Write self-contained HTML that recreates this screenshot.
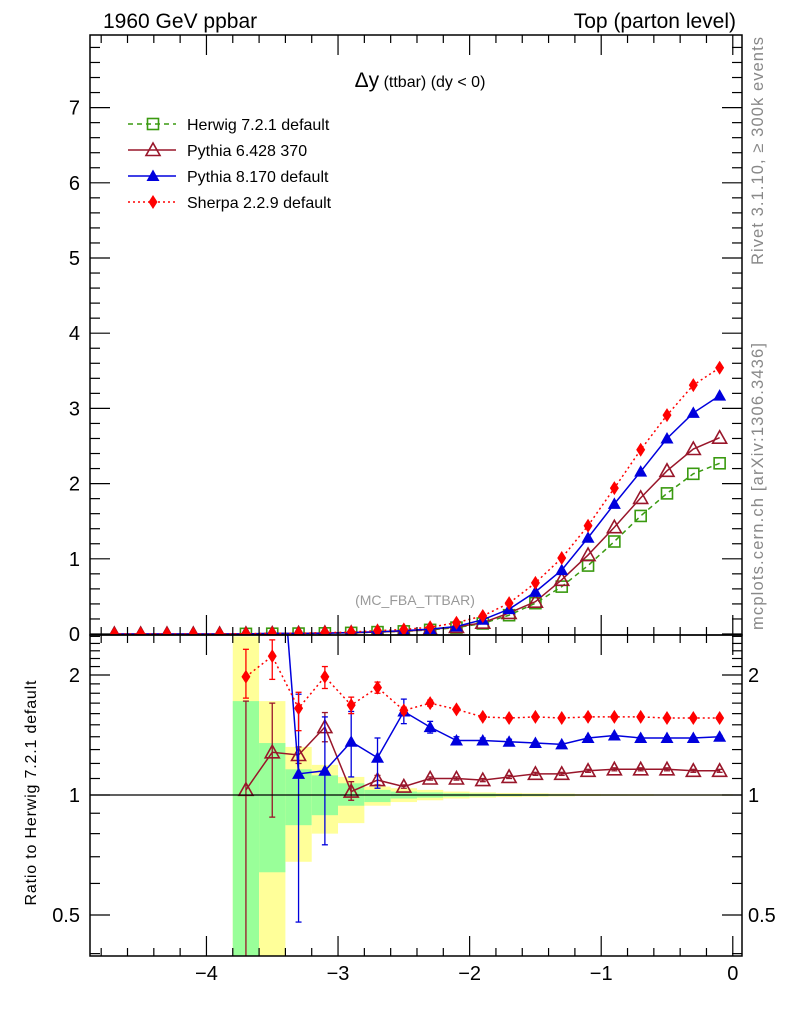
<!DOCTYPE html>
<html><head><meta charset="utf-8"><style>
body{margin:0;background:#fff;}
svg{display:block;font-family:"Liberation Sans",Arial,sans-serif;}
</style></head><body>
<svg id="chart" width="786" height="1024" viewBox="0 0 786 1024" xmlns="http://www.w3.org/2000/svg">
<text x="103" y="28" font-size="21">1960 GeV ppbar</text>
<text x="736" y="28" font-size="21" text-anchor="end">Top (parton level)</text>
<text x="420" y="87" font-size="16" text-anchor="middle"><tspan font-size="21">Δy</tspan> (ttbar) (dy &lt; 0)</text>
<text x="415" y="605" font-size="14" fill="#999" text-anchor="middle">(MC_FBA_TTBAR)</text>
<text transform="translate(763,265) rotate(-90)" font-size="16.5" fill="#888" textLength="228">Rivet 3.1.10, ≥ 300k events</text>
<text transform="translate(763,630) rotate(-90)" font-size="16.5" fill="#888" textLength="287">mcplots.cern.ch [arXiv:1306.3436]</text>
<text transform="translate(36,793) rotate(-90)" font-size="16" text-anchor="middle" textLength="225">Ratio to Herwig 7.2.1 default</text>
<g id="bands"></g>
<g id="ratioMarks"></g>
<g id="mainMarks"></g>
<g id="axes"></g>
<g id="legend"></g>
<defs><clipPath id="clipR"><rect x="90" y="635" width="652" height="321"/></clipPath><clipPath id="clipM"><rect x="90" y="35" width="652" height="600"/></clipPath></defs>
</svg>
<script>
const xs = [-4.7,-4.5,-4.3,-4.1,-3.9,-3.7,-3.5,-3.3,-3.1,-2.9,-2.7,-2.5,-2.3,-2.1,-1.9,-1.7,-1.5,-1.3,-1.1,-0.9,-0.7,-0.5,-0.3,-0.1];
const herwig = [0,0,0,0,0,0.002,0.004,0.006,0.009,0.015,0.025,0.035,0.055,0.085,0.14,0.25,0.41,0.63,0.91,1.23,1.57,1.87,2.13,2.27];
const pythia6 = [0,0,0,0,0,0.002,0.005,0.008,0.013,0.015,0.027,0.037,0.06,0.094,0.15,0.28,0.43,0.72,1.05,1.42,1.81,2.17,2.46,2.61];
const pythia8 = [0,0,0,0,0,0,0.01,0.007,0.01,0.02,0.03,0.045,0.065,0.1,0.19,0.33,0.56,0.85,1.28,1.73,2.16,2.6,2.94,3.17];
const sherpa = [0,0,0,0,0,0.004,0.009,0.01,0.018,0.025,0.045,0.06,0.09,0.15,0.24,0.41,0.68,1.01,1.44,1.94,2.45,2.91,3.31,3.54];
const rxs = [-3.7,-3.5,-3.3,-3.1,-2.9,-2.7,-2.5,-2.3,-2.1,-1.9,-1.7,-1.5,-1.3,-1.1,-0.9,-0.7,-0.5,-0.3,-0.1];
const sherpaR = [1.98,2.23,1.65,1.98,1.68,1.86,1.63,1.70,1.64,1.57,1.56,1.57,1.56,1.57,1.57,1.57,1.56,1.56,1.56];
const sherpaRlo = [1.75,1.95,1.45,1.85,1.6,1.8,1.6,1.67,1.62,1.55,1.55,1.56,1.55,1.56,1.56,1.56,1.55,1.55,1.55];
const sherpaRhi = [2.32,2.45,1.81,2.1,1.76,1.92,1.66,1.73,1.66,1.59,1.57,1.58,1.57,1.58,1.58,1.58,1.57,1.57,1.57];
const p8R = [null,8,1.13,1.15,1.36,1.24,1.62,1.48,1.37,1.37,1.36,1.35,1.34,1.39,1.41,1.39,1.39,1.39,1.40];
const p8Rlo = [null,8,0.48,0.75,1.11,1.04,1.51,1.43,1.34,1.35,1.34,1.34,1.33,1.38,1.40,1.38,1.38,1.38,1.39];
const p8Rhi = [null,8,1.79,1.57,1.62,1.39,1.74,1.53,1.40,1.39,1.38,1.36,1.35,1.40,1.42,1.40,1.40,1.40,1.41];
const p6R = [1.03,1.28,1.26,1.48,1.02,1.09,1.05,1.10,1.10,1.09,1.11,1.13,1.13,1.15,1.16,1.16,1.16,1.15,1.15];
const p6Rlo = [0.3,0.88,1.2,1.36,0.97,1.06,1.04,1.09,1.09,1.08,1.10,1.12,1.12,1.14,1.15,1.15,1.15,1.14,1.14];
const p6Rhi = [1.72,1.70,1.32,1.61,1.08,1.12,1.06,1.11,1.11,1.10,1.12,1.14,1.14,1.16,1.17,1.17,1.17,1.16,1.16];
const bandEdges = [-3.8,-3.6,-3.4,-3.2,-3.0,-2.8,-2.6,-2.4,-2.2,-2.0,-1.8,-1.6,-1.4,-1.2,-1.0,-0.8,-0.6,-0.4,-0.2,0];
const yelHi = [2.5,1.72,1.32,1.19,1.11,1.05,1.04,1.03,1.02,1.015,1.012,1.01,1.008,1.006,1.005,1.005,1.004,1.004,1.004];
const yelLo = [0.3,0.3,0.68,0.80,0.85,0.94,0.96,0.97,0.98,0.985,0.988,0.99,0.992,0.994,0.995,0.995,0.996,0.996,0.996];
const grnHi = [1.72,1.35,1.16,1.12,1.07,1.03,1.02,1.015,1.01,1.008,1.006,1.005,1.004,1.003,1.003,1.002,1.002,1.002,1.002];
const grnLo = [0.3,0.64,0.84,0.89,0.94,0.96,0.98,0.985,0.99,0.992,0.994,0.995,0.996,0.997,0.997,0.998,0.998,0.998,0.998];
const mainTicks = [1,2,3,4,5,6,7];
const ratioTicks = [0.5,1,2];
const xTicks = [-4,-3,-2,-1,0];

const NS="http://www.w3.org/2000/svg";
const X0=90,X1=742,MT=35,MB=635,RT=635,RB=956;
const xMin=-4.885,xMax=0.07;
const sx=v=>X0+(v-xMin)/(xMax-xMin)*(X1-X0);
const sy=v=>634-v*75.2;
const sr=v=>795-120*Math.log2(v);
function el(tag,attrs,parent){const e=document.createElementNS(NS,tag);for(const k in attrs)e.setAttribute(k,attrs[k]);parent.appendChild(e);return e;}
const axes=document.getElementById('axes'),bands=document.getElementById('bands'),rm=document.getElementById('ratioMarks'),mm=document.getElementById('mainMarks'),lg=document.getElementById('legend');
bands.setAttribute('clip-path','url(#clipR)');
rm.setAttribute('clip-path','url(#clipR)');
mm.setAttribute('clip-path','url(#clipM)');

for(let i=0;i<yelHi.length;i++){
  const a=sx(bandEdges[i]),b=sx(bandEdges[i+1]);
  const y=el('rect',{x:a,y:sr(yelHi[i]),width:b-a,height:sr(yelLo[i])-sr(yelHi[i]),fill:'#ffff99'},bands);
  
  
  const g=el('rect',{x:a,y:sr(grnHi[i]),width:b-a,height:sr(grnLo[i])-sr(grnHi[i]),fill:'#99ff99'},bands);
  
  
}
const one=el('line',{x1:X0,x2:X1,y1:sr(1),y2:sr(1),stroke:'#000','stroke-width':1.3},axes);



function marker(type,cx,cy,color,parent){
  let m;
  if(type==='sq') m=el('rect',{x:cx-5.5,y:cy-5.5,width:11,height:11,fill:'none',stroke:color,'stroke-width':1.6},parent);
  else if(type==='otri') m=el('polygon',{points:`${cx},${cy-7} ${cx-7},${cy+5.5} ${cx+7},${cy+5.5}`,fill:'none',stroke:color,'stroke-width':1.6},parent);
  else if(type==='tri') m=el('polygon',{points:`${cx},${cy-6.5} ${cx-6.5},${cy+5} ${cx+6.5},${cy+5}`,fill:color},parent);
  else m=el('polygon',{points:`${cx},${cy-7} ${cx-4.5},${cy} ${cx},${cy+7} ${cx+4.5},${cy}`,fill:color},parent);
  
  
}
function series(xv,vals,fy,color,dash,type,parent,name,lo,hi){
  let pts=[];
  for(let i=0;i<vals.length;i++){if(vals[i]!==null)pts.push(sx(xv[i])+','+fy(vals[i]));}
  const p=el('polyline',{points:pts.join(' '),fill:'none',stroke:color,'stroke-width':1.5,'stroke-dasharray':dash},parent);
  
  
  for(let i=0;i<vals.length;i++){
    if(vals[i]===null)continue;
    const cx=sx(xv[i]);
    if(lo){
      const e=el('line',{x1:cx,x2:cx,y1:fy(lo[i]),y2:fy(hi[i]),stroke:color,'stroke-width':1.3},parent);
      
      
      for(const v of [lo[i],hi[i]]){const c=el('line',{x1:cx-3,x2:cx+3,y1:fy(v),y2:fy(v),stroke:color,'stroke-width':1.3},parent);
        
        }
    }
    marker(type,cx,fy(vals[i]),color,parent);
  }
}
series(rxs,p6R,sr,'#99162a','', 'otri',rm,'pythia6-ratio',p6Rlo,p6Rhi);
series(rxs,p8R,sr,'#0000dd','', 'tri',rm,'pythia8-ratio',p8Rlo,p8Rhi);
series(rxs,sherpaR,sr,'#ff0000','2,3','dia',rm,'sherpa-ratio',sherpaRlo,sherpaRhi);

const hx=[],hv=[];for(let i=0;i<xs.length;i++){if(xs[i]>-3.8){hx.push(xs[i]);hv.push(herwig[i]);}}
series(hx,hv,sy,'#3a9a10','5,4','sq',mm,'herwig');
series(xs,pythia6,sy,'#99162a','', 'otri',mm,'pythia6');
series(xs,pythia8,sy,'#0000dd','', 'tri',mm,'pythia8');
series(xs,sherpa,sy,'#ff0000','2,3','dia',mm,'sherpa');

for(const [t,b,n] of [[MT,MB,'main-frame'],[RT,RB,'ratio-frame']]){
  const f=el('rect',{x:X0,y:t,width:X1-X0,height:b-t,fill:'none',stroke:'#000','stroke-width':1.5},axes);
  
  
}
for(let v=-4.8;v<=0.05;v+=0.2){
  const x=sx(v),major=Math.abs(v-Math.round(v))<0.01,len=major?20:8;
  for(const [yy,d] of [[MT,1],[MB,-1],[RT,1],[RB,-1]]){
    const t=el('line',{x1:x,x2:x,y1:yy,y2:yy+d*len,stroke:'#000','stroke-width':1.2},axes);
    
    
  }
}
for(const v of xTicks){
  const t=el('text',{x:sx(v),y:980,'font-size':20,'text-anchor':'middle'},axes);
  t.textContent=v<0?'−'+Math.abs(v):String(v);
  
  
}
for(let v=0;v<=7.9;v+=0.2){
  const y=sy(v),major=Math.abs(v-Math.round(v))<0.01,len=major?20:10;
  for(const [xx,d] of [[X0,1],[X1,-1]]){
    const t=el('line',{x1:xx,x2:xx+d*len,y1:y,y2:y,stroke:'#000','stroke-width':1.2},axes);
    
    
  }
}
for(const v of mainTicks){
  const t=el('text',{x:80,y:sy(v)+7,'font-size':20,'text-anchor':'end'},axes);
  t.textContent=String(v);
  
  
}
{const t=el('text',{x:80,y:641,'font-size':20,'text-anchor':'end'},axes);t.textContent='0';

}
const rminor=[0.4,0.5,0.6,0.7,0.8,0.9,1,1.1,1.2,1.3,1.4,1.5,1.6,1.7,1.8,1.9,2,2.1,2.2,2.3,2.4,2.5];
for(const v of rminor){
  const y=sr(v);if(y<RT||y>RB)continue;
  const major=(v===0.5||v===1||v===2),len=major?20:10;
  for(const [xx,d] of [[X0,1],[X1,-1]]){
    const t=el('line',{x1:xx,x2:xx+d*len,y1:y,y2:y,stroke:'#000','stroke-width':1.2},axes);
    
    
  }
}
for(const v of ratioTicks){
  for(const [xx,a] of [[80,'end'],[748,'start']]){
    const t=el('text',{x:xx,y:sr(v)+7,'font-size':20,'text-anchor':a},axes);
    t.textContent=String(v);
    
    
  }
}
const leg=[['Herwig 7.2.1 default','#3a9a10','5,4','sq'],['Pythia 6.428 370','#99162a','','otri'],['Pythia 8.170 default','#0000dd','','tri'],['Sherpa 2.2.9 default','#ff0000','2,3','dia']];
leg.forEach((L,i)=>{
  const y=124+i*26;
  const g=el('g',{},lg);
  
  
  el('line',{x1:128,x2:176,y1:y,y2:y,stroke:L[1],'stroke-width':1.5,'stroke-dasharray':L[2]},g);
  marker(L[3],153,y,L[1],g);
  const t=el('text',{x:187,y:y+6,'font-size':16},g);t.textContent=L[0];
});
</script>
</body></html>
